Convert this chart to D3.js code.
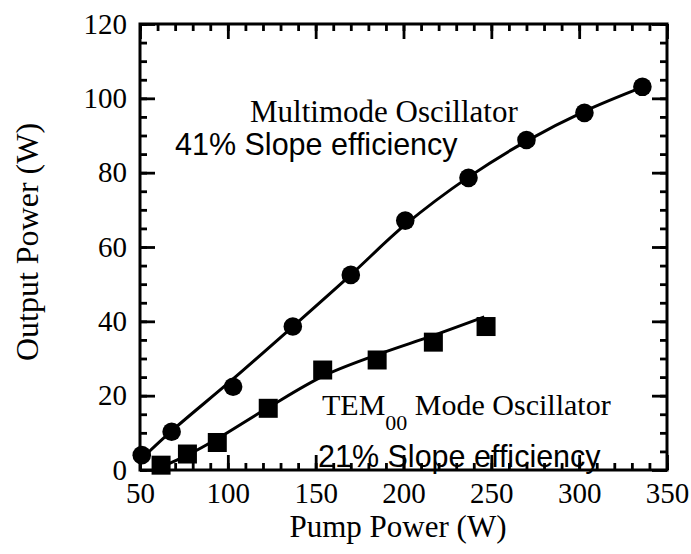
<!DOCTYPE html>
<html>
<head>
<meta charset="utf-8">
<script src="https://cdn.jsdelivr.net/npm/d3@7/dist/d3.min.js"></script>
<style>
  body { margin: 0; background: #fff; }
  svg { display: block; }
  .tick text { font-family: "Liberation Serif", "Times New Roman", serif; }
</style>
</head>
<body>
<div id="chart-area"></div>
<script>
// measured points (pump power W, output power W)
var multiX = [51, 68, 103, 137, 170, 201, 237, 270, 303, 336]
var multiY = [4, 10.3, 22.4, 38.6, 52.5, 67.1, 78.6, 88.8, 96.1, 103.1]
var temX = [62, 77, 94, 123, 154, 185, 217, 247]
var temY = [1.3, 4.3, 7.4, 16.6, 26.9, 29.6, 34.4, 38.6]

// fitted curves as drawn in the figure
var multiFitX = [52, 68, 103, 137, 170, 201, 237, 270, 303, 336]
var multiFitY = [3.5, 10.5, 24.5, 38.6, 52.5, 66, 78.8, 88.5, 96.5, 103]
var temFitX = [62, 77, 94, 123, 154, 185, 217, 246]
var temFitY = [0.8, 4.0, 8.4, 16.8, 25.2, 31.0, 36.2, 41.2]

var xMajor = [50, 100, 150, 200, 250, 300, 350]
var yMajor = [0, 20, 40, 60, 80, 100, 120]

var W = 691, H = 554
var pLeft = 140, pRight = 667, pTop = 24, pBottom = 470

var svg = d3.select("#chart-area").append("svg")
    .attr("width", W)
    .attr("height", H)

var x = d3.scaleLinear().domain([50, 350]).range([pLeft, pRight])
var y = d3.scaleLinear().domain([0, 120]).range([pBottom, pTop])

var xMinor = d3.range(50, 351, 10)
var yMinor = d3.range(0, 121, 5)

function styleAxis(g) {
    g.select(".domain").remove()
    g.selectAll(".tick line").attr("stroke", "#000").attr("stroke-width", 2.8)
}

// minor ticks, all four sides, pointing inward
svg.append("g").attr("transform", "translate(0," + pBottom + ")")
    .call(d3.axisBottom(x).tickValues(xMinor).tickSize(-7).tickFormat(""))
    .call(styleAxis)
svg.append("g").attr("transform", "translate(0," + pTop + ")")
    .call(d3.axisTop(x).tickValues(xMinor).tickSize(-7).tickFormat(""))
    .call(styleAxis)
svg.append("g").attr("transform", "translate(" + pLeft + ",0)")
    .call(d3.axisLeft(y).tickValues(yMinor).tickSize(-7).tickFormat(""))
    .call(styleAxis)
svg.append("g").attr("transform", "translate(" + pRight + ",0)")
    .call(d3.axisRight(y).tickValues(yMinor).tickSize(-7).tickFormat(""))
    .call(styleAxis)

// major ticks
var xAxis = svg.append("g").attr("transform", "translate(0," + pBottom + ")")
    .call(d3.axisBottom(x).tickValues(xMajor).tickSize(-15).tickPadding(12))
    .call(styleAxis)
xAxis.selectAll(".tick text").attr("font-size", 29).attr("fill", "#000").attr("y", 12).attr("dy", "0.71em")
svg.append("g").attr("transform", "translate(0," + pTop + ")")
    .call(d3.axisTop(x).tickValues(xMajor).tickSize(-15).tickFormat(""))
    .call(styleAxis)
var yAxis = svg.append("g").attr("transform", "translate(" + pLeft + ",0)")
    .call(d3.axisLeft(y).tickValues(yMajor).tickSize(-15).tickPadding(13))
    .call(styleAxis)
yAxis.selectAll(".tick text").attr("font-size", 29).attr("fill", "#000").attr("x", -13)
svg.append("g").attr("transform", "translate(" + pRight + ",0)")
    .call(d3.axisRight(y).tickValues(yMajor).tickSize(-15).tickFormat(""))
    .call(styleAxis)

// frame
svg.append("rect")
    .attr("x", pLeft).attr("y", pTop)
    .attr("width", pRight - pLeft).attr("height", pBottom - pTop)
    .attr("fill", "none").attr("stroke", "#000").attr("stroke-width", 3)

// curves
var line = d3.line().curve(d3.curveCatmullRom)
    .x(function(d){ return x(d[0]) })
    .y(function(d){ return y(d[1]) })

svg.append("path")
    .datum(d3.zip(multiFitX, multiFitY))
    .attr("d", line)
    .attr("fill", "none").attr("stroke", "#000").attr("stroke-width", 3)
svg.append("path")
    .datum(d3.zip(temFitX, temFitY))
    .attr("d", line)
    .attr("fill", "none").attr("stroke", "#000").attr("stroke-width", 3)

// markers
svg.selectAll("circle.multi")
    .data(d3.zip(multiX, multiY))
    .enter().append("circle")
    .attr("class", "multi")
    .attr("cx", function(d){ return x(d[0]) })
    .attr("cy", function(d){ return y(d[1]) })
    .attr("r", 9.3)
    .attr("fill", "#000")

var sq = 19
svg.selectAll("rect.tem")
    .data(d3.zip(temX, temY))
    .enter().append("rect")
    .attr("class", "tem")
    .attr("x", function(d){ return x(d[0]) - sq / 2 })
    .attr("y", function(d){ return y(d[1]) - sq / 2 })
    .attr("width", sq).attr("height", sq)
    .attr("fill", "#000")

// axis titles
var serif = "'Liberation Serif', 'Times New Roman', serif"
var sans = "'Liberation Sans', Arial, sans-serif"

svg.append("text")
    .attr("x", 398).attr("y", 537)
    .attr("text-anchor", "middle")
    .attr("font-family", serif).attr("font-size", 31)
    .text("Pump Power (W)")

svg.append("text")
    .attr("transform", "translate(38,242) rotate(-90)")
    .attr("text-anchor", "middle")
    .attr("font-family", serif).attr("font-size", 32)
    .text("Output Power (W)")

// annotations
svg.append("text")
    .attr("x", 250).attr("y", 122)
    .attr("font-family", serif).attr("font-size", 31)
    .text("Multimode Oscillator")
svg.append("text")
    .attr("x", 175).attr("y", 155)
    .attr("font-family", sans).attr("font-size", 30.5)
    .text("41% Slope efficiency")

var tem = svg.append("text")
    .attr("x", 322).attr("y", 415)
    .attr("font-family", serif).attr("font-size", 30)
tem.append("tspan").text("TEM")
tem.append("tspan").attr("dy", 15).attr("font-size", 22).text("00")
tem.append("tspan").attr("dy", -15).text(" Mode Oscillator")

svg.append("text")
    .attr("x", 318).attr("y", 467)
    .attr("font-family", sans).attr("font-size", 30.5)
    .text("21% Slope efficiency")
</script>
</body>
</html>
